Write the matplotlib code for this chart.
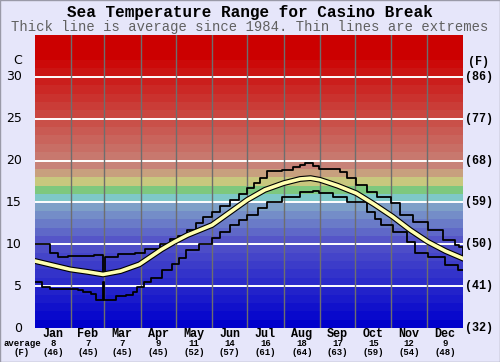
import numpy as np
import matplotlib
matplotlib.use('Agg')
import matplotlib.pyplot as plt
import matplotlib.patheffects as pe
from matplotlib.patches import Rectangle

# Data
##############################

month_names = ['Jan', 'Feb', 'Mar', 'Apr', 'May', 'Jun',
               'Jul', 'Aug', 'Sep', 'Oct', 'Nov', 'Dec']
month_edges = [0, 31, 59, 90, 120, 151, 181, 212, 243, 273, 304, 334, 365]
month_avg_c = [8, 7, 7, 9, 11, 14, 16, 18, 17, 15, 12, 9]
month_avg_f = [46, 45, 45, 45, 52, 57, 61, 64, 63, 59, 54, 48]

c_ticks = [0, 5, 10, 15, 20, 25, 30]
f_ticks = [32, 41, 50, 59, 68, 77, 86]

# average (thick line)
avg_day = [0, 15, 30, 45, 58, 73, 89, 108, 119, 130, 151, 166, 181, 196,
           212, 226, 235, 243, 258, 274, 289, 305, 320, 335, 350, 365]
avg_t = [8.0, 7.5, 7.0, 6.7, 6.4, 6.8, 7.6, 9.4, 10.3, 11.1, 12.3, 13.8, 15.3, 16.5,
         17.3, 17.8, 17.9, 17.7, 17.0, 16.1, 14.8, 13.3, 11.7, 10.3, 9.2, 8.3]

# extremes (thin lines)
max_day = [0, 13, 20, 28, 50, 57, 58, 60, 71, 85, 94, 107, 115, 122, 130, 137,
           143, 151, 158, 166, 174, 181, 187, 192, 198, 211, 220, 226, 230, 237,
           242, 254, 260, 266, 274, 283, 292, 304, 311, 322, 335, 348, 358, 362, 365]
max_t = [10.0, 8.9, 8.5, 8.6, 8.7, 8.7, 6.6, 8.5, 8.8, 9.0, 9.4, 10.0, 10.6, 11.0, 11.7, 12.5,
         13.3, 13.9, 14.6, 15.3, 16.0, 16.7, 17.3, 17.9, 18.7, 18.9, 19.2, 19.5, 19.7, 19.3,
         19.0, 19.0, 18.6, 17.9, 17.1, 16.3, 15.7, 14.9, 13.5, 12.7, 11.7, 10.5, 9.9, 9.7, 8.5]

min_day = [0, 6, 13, 37, 41, 48, 52, 58, 59, 69, 78, 84, 87, 93, 99, 108, 117,
           123, 129, 140, 151, 158, 166, 174, 181, 190, 198, 211, 226, 237, 242,
           254, 266, 274, 283, 290, 295, 305, 317, 324, 335, 350, 361, 365]
min_t = [5.45, 4.9, 4.6, 4.5, 4.3, 4.1, 3.4, 5.5, 3.4, 3.8, 4.0, 4.3, 4.9, 5.5, 6.0, 6.9, 7.7,
         8.4, 9.3, 10.0, 10.7, 11.5, 12.3, 12.9, 13.5, 14.3, 15.1, 15.7, 16.3, 16.4, 16.1,
         15.7, 15.0, 15.0, 13.9, 13.0, 12.3, 11.5, 10.3, 8.9, 8.5, 7.5, 6.9, 6.9]

# Colour bands, 1 C each
#########################
anchor_t = [0, 10, 14, 15, 16, 17, 18, 19, 20, 32, 35]
anchor_r = [0, 85, 126, 126, 126, 200, 200, 200, 200, 204, 204]
anchor_g = [0, 85, 160, 200, 200, 200, 160, 130, 120, 0, 0]
anchor_b = [204, 200, 200, 200, 126, 126, 126, 120, 110, 0, 0]

W, H = 500, 362
bg = '#e6e6fa'
fig = plt.figure(figsize=(W / 100, H / 100), dpi=100, facecolor=bg)
ax = fig.add_axes([35 / W, 1 - 328 / H, 428 / W, 293 / H])

for t in range(35):
    col = (np.interp(t, anchor_t, anchor_r) / 255,
           np.interp(t, anchor_t, anchor_g) / 255,
           np.interp(t, anchor_t, anchor_b) / 255)
    ax.axhspan(t, t + 1, color=col, lw=0, zorder=0)

for t in c_ticks[1:]:
    ax.axhline(t, color='white', lw=1.4, zorder=1)
for d in month_edges[1:-1]:
    ax.axvline(d, color='#6e6e6e', lw=1.0, zorder=1)

ax.plot(max_day, max_t, drawstyle='steps-post', color='black', lw=1.3, zorder=3)
ax.plot(min_day, min_t, drawstyle='steps-post', color='black', lw=1.3, zorder=3)
ax.plot(avg_day, avg_t, color='#ffffb0', lw=2.6, zorder=4,
        path_effects=[pe.Stroke(linewidth=4.2, foreground='black'), pe.Normal()])

ax.set_xlim(0, 365)
ax.set_ylim(0, 35)
ax.set_xticks([])
ax.set_yticks([])
for s in ax.spines.values():
    s.set_visible(False)

# Texts
########
def fx(px):
    return px / W

def fy(py):
    return 1 - py / H

mono = 'Liberation Mono'
fig.text(0.5, fy(12), 'Sea Temperature Range for Casino Break', ha='center', va='center',
         family=mono, weight='bold', fontsize=11.5)
fig.text(0.5, fy(27), 'Thick line is average since 1984. Thin lines are extremes',
         ha='center', va='center', family=mono, fontsize=10, color='#606060')

for c, f in zip(c_ticks, f_ticks):
    py = 328 - c * 293 / 35
    fig.text(fx(22), fy(py), str(c), ha='right', va='center', family='DejaVu Sans', fontsize=9)
    fig.text(fx(465), fy(py), '(%d)' % f, ha='left', va='center', family=mono,
             weight='bold', fontsize=8.5)
fig.text(fx(22), fy(61), 'C', ha='right', va='center', family='DejaVu Sans', fontsize=9)
fig.text(fx(479), fy(62), '(F)', ha='center', va='center', family=mono,
         weight='bold', fontsize=8.5)

for i, name in enumerate(month_names):
    mid = (month_edges[i] + month_edges[i + 1]) / 2
    px = 35 + mid * 428 / 365
    fig.text(fx(px), fy(334), name, ha='center', va='center', family=mono,
             weight='bold', fontsize=8.5)
    fig.text(fx(px), fy(343.5), str(month_avg_c[i]), ha='center', va='center',
             family=mono, weight='bold', fontsize=6.5)
    fig.text(fx(px), fy(352.5), '(%d)' % month_avg_f[i], ha='center', va='center',
             family=mono, weight='bold', fontsize=6.5)
fig.text(fx(22), fy(343.5), 'average', ha='center', va='center', family=mono,
         weight='bold', fontsize=6.5)
fig.text(fx(22), fy(352.5), '(F)', ha='center', va='center', family=mono,
         weight='bold', fontsize=6.5)

fig.patches.append(Rectangle((0, 0), 1, 1, transform=fig.transFigure, fill=False,
                             edgecolor='#9a9aa8', lw=1.0))

fig.savefig('out.png', dpi=100, facecolor=bg)
